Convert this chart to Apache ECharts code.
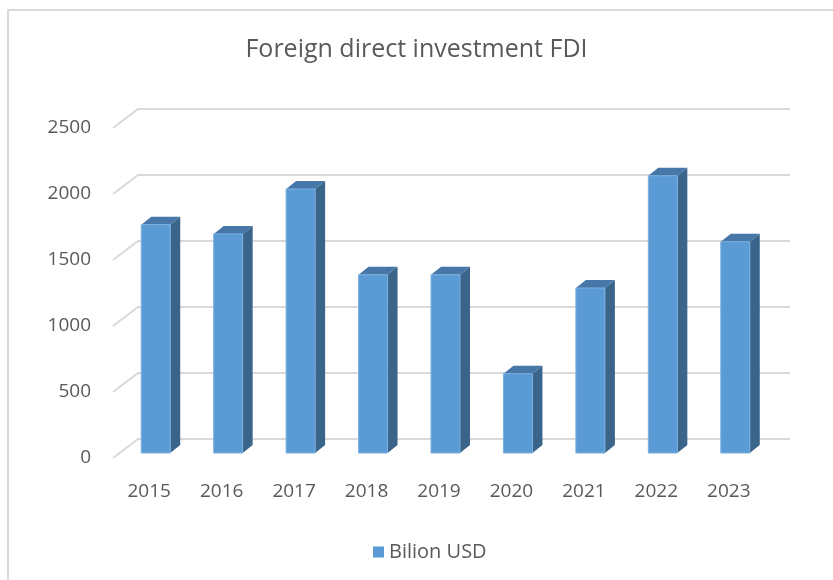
<!DOCTYPE html>
<html>
<head>
<meta charset="utf-8">
<script src="https://cdn.jsdelivr.net/npm/echarts@6/dist/echarts.min.js"></script>
<style>
  html, body { margin: 0; padding: 0; background: #fff; }
  #main { width: 833px; height: 580px; }
</style>
</head>
<body>
<div id="main"></div>
<script>
var years = ['2015', '2016', '2017', '2018', '2019', '2020', '2021', '2022', '2023'];
var fdi = [1730, 1660, 2000, 1350, 1350, 600, 1250, 2100, 1600];
var yTicks = [0, 500, 1000, 1500, 2000, 2500];

// 3D look: offset of the back wall and of the bars
var wallDx = 25, wallDy = -19;
var barDx = 6.5, barDy = -5, barW = 29, depthX = 10, depthY = -8;

var chart = echarts.init(document.getElementById('main'));

var option = {
    backgroundColor: '#fff',
    textStyle: { fontFamily: '"Open Sans", sans-serif' },
    title: {
        text: 'Foreign direct investment FDI',
        left: 'center',
        top: 32,
        textStyle: { color: '#595959', fontSize: 25, fontWeight: 'normal' }
    },
    legend: {
        left: 368,
        top: 537,
        icon: 'rect',
        itemWidth: 11,
        itemHeight: 11,
        itemGap: 6,
        textStyle: { color: '#595959', fontSize: 20 },
        data: ['Bilion USD']
    },
    graphic: [{
        type: 'rect',
        shape: { x: 8, y: 10, width: 900, height: 700 },
        style: { fill: 'none', stroke: '#d9d9d9', lineWidth: 2 },
        silent: true
    }],
    grid: { left: 113, right: 68, top: 128, bottom: 122 },
    xAxis: {
        type: 'category',
        data: years,
        axisLine: { show: false },
        axisTick: { show: false },
        axisLabel: { color: '#595959', fontSize: 19, margin: 24 }
    },
    yAxis: {
        type: 'value',
        min: 0,
        max: 2500,
        interval: 500,
        axisLine: { show: false },
        axisTick: { show: false },
        splitLine: { show: false },
        axisLabel: {
            color: '#595959', fontSize: 19, margin: 22,
            padding: [4, 0, 0, 0],
            formatter: function (v) { return String(v); }
        }
    },
    series: [
        {
            type: 'custom',
            name: 'grid',
            silent: true,
            z: 1,
            data: yTicks.map(function (v) { return [0, v]; }),
            renderItem: function (params, api) {
                var cs = params.coordSys;
                var y = api.coord([0, api.value(1)])[1];
                var x0 = cs.x, x1 = cs.x + cs.width;
                return {
                    type: 'polyline',
                    shape: { points: [[x0, y], [x0 + wallDx, y + wallDy], [x1 + wallDx, y + wallDy]] },
                    style: { fill: 'none', stroke: '#d9d9d9', lineWidth: 2 }
                };
            }
        },
        {
            type: 'custom',
            name: 'Bilion USD',
            z: 2,
            itemStyle: { color: '#5B9BD5' },
            data: fdi.map(function (v, i) { return [i, v]; }),
            renderItem: function (params, api) {
                var base = api.coord([api.value(0), 0]);
                var top = api.coord([api.value(0), api.value(1)]);
                var xl = base[0] - barW / 2 + barDx;
                var xr = xl + barW;
                var yb = base[1] + barDy;
                var yt = top[1] + barDy;
                return {
                    type: 'group',
                    children: [
                        {
                            type: 'polygon',
                            shape: { points: [[xr, yt], [xr + depthX, yt + depthY], [xr + depthX, yb + depthY], [xr, yb]] },
                            style: { fill: '#3A6489' }
                        },
                        {
                            type: 'polygon',
                            shape: { points: [[xl, yt], [xl + depthX, yt + depthY], [xr + depthX, yt + depthY], [xr, yt]] },
                            style: { fill: '#4677A8' }
                        },
                        {
                            type: 'rect',
                            shape: { x: xl, y: yt, width: barW, height: yb - yt },
                            style: { fill: '#5B9BD5', stroke: '#7DB0E0', lineWidth: 1 }
                        }
                    ]
                };
            }
        }
    ]
};

chart.setOption(option);
</script>
</body>
</html>
